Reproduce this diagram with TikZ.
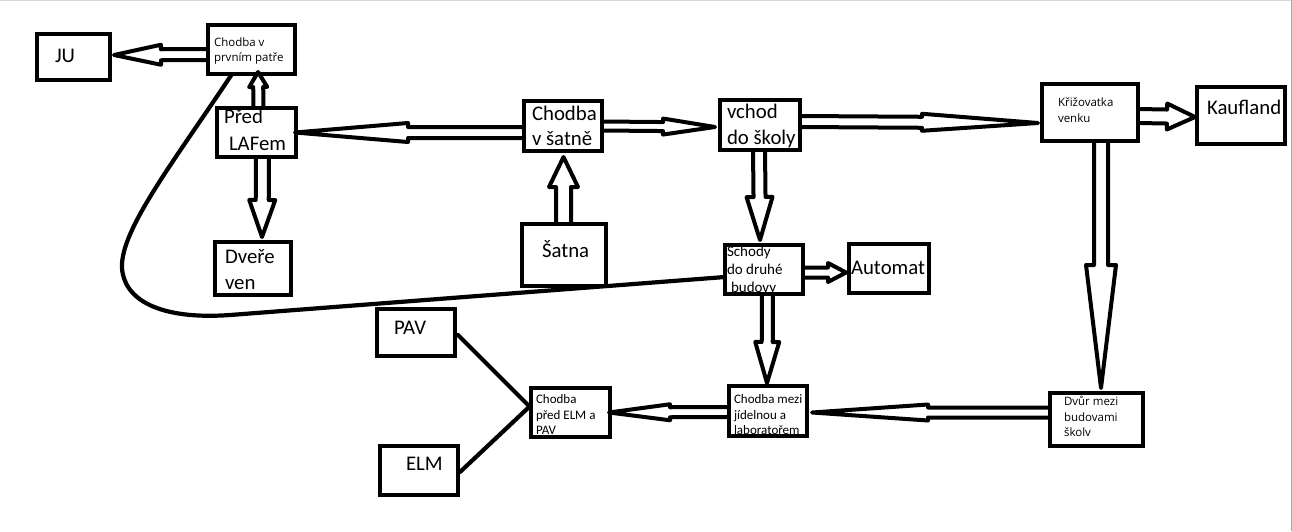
\documentclass[tikz,border=0pt]{standalone}
\usepackage{fontspec}
\setmainfont{Carlito}
\newfontfamily\segfont{Open Sans}
\usetikzlibrary{calc}
\newcommand\hollowarrow[5]{%
  \path (#1) coordinate (ha-s) (#2) coordinate (ha-t);
  \path ($(ha-t)!#5!(ha-s)$) coordinate (ha-b);
  \draw[blk] ($(ha-s)!#3!90:(ha-t)$) -- ($(ha-b)!#3!-90:(ha-s)$) -- ($(ha-b)!#4!-90:(ha-s)$) -- (ha-t) -- ($(ha-b)!#4!90:(ha-s)$) -- ($(ha-b)!#3!90:(ha-s)$) -- ($(ha-s)!#3!-90:(ha-t)$);
}
\begin{document}
\begin{tikzpicture}[x=1pt,y=-1pt,
  box/.style={draw=black, line width=4pt, inner sep=0pt, outer sep=0pt, rectangle},
  blk/.style={draw=black, line width=4pt, line join=round, line cap=round},
  ln/.style={draw=black, line width=4.2pt, line cap=round, line join=round},
  big/.style={anchor=base west, inner sep=0pt, outer sep=0pt, font=\fontsize{20.8}{24}\selectfont},
  med/.style={anchor=base west, inner sep=0pt, outer sep=0pt, font=\fontsize{15}{18}\selectfont},
  sml/.style={anchor=base west, inner sep=0pt, outer sep=0pt, font=\fontsize{13}{15}\selectfont},
  seg/.style={anchor=base west, inner sep=0pt, outer sep=0pt, font=\segfont\fontsize{11.5}{14}\selectfont}
]
\useasboundingbox (0,0) rectangle (1292,531);
\fill[white] (0,0) rectangle (1292,531);
\draw[line width=1.2pt, color={rgb,255:red,216;green,216;blue,216}] (0,0.6) -- (1292,0.6);
\draw[line width=1pt, color={rgb,255:red,163;green,171;blue,179}] (1291.5,0) -- (1291.5,531);

% texts
\node[big] (t-ju) at (55,62) {JU};
\node[seg] (t-cpp1) at (214,46.5) {Chodba v};
\node[seg] (t-cpp2) at (214,61) {prvním patře};
\node[big] (t-ple1) at (224,123) {Před};
\node[big] (t-ple2) at (229,150) {LAFem};
\node[big] (t-dve1) at (225,263) {Dveře};
\node[big] (t-dve2) at (225,289) {ven};
\node[big] (t-chs1) at (532,120) {Chodba};
\node[big] (t-chs2) at (532,145.5) {v šatně};
\node[big] (t-vch1) at (727,118) {vchod};
\node[big] (t-vch2) at (727,144) {do školy};
\node[big] (t-sat) at (542,257) {Šatna};
\node[med] (t-sch1) at (727,256) {Schody};
\node[med] (t-sch2) at (727,274) {do druhé};
\node[med] (t-sch3) at (731,292) {budovy};
\node[big] (t-aut) at (851,274) {Automat};
\node[seg] (t-kri1) at (1058,106.5) {Křižovatka};
\node[seg] (t-kri2) at (1058,122) {venku};
\node[big] (t-kau) at (1207,114) {Kaufland};
\node[seg] (t-dvu1) at (1064,405.5) {Dvůr mezi};
\node[seg] (t-dvu2) at (1064,421) {budovami};
\node[seg] (t-dvu3) at (1064,436) {školv};
\node[sml] (t-cmz1) at (734,403) {Chodba mezi};
\node[sml] (t-cmz2) at (734,419) {jídelnou a};
\node[sml] (t-cmz3) at (734,434.5) {laboratořem};
\node[sml] (t-cpr1) at (536,403) {Chodba};
\node[sml] (t-cpr2) at (536,419) {před ELM a};
\node[sml] (t-cpr3) at (536,434.5) {PAV};
\node[big] (t-pav) at (394,334) {PAV};
\node[big] (t-elm) at (406,470) {ELM};

% boxes
\node[box, minimum width=73pt, minimum height=46pt] (ju) at (73.5,57) {};
\node[box, minimum width=87pt, minimum height=49pt] (cpp) at (251.5,49.5) {};
\node[box, minimum width=79pt, minimum height=49pt] (ple) at (256.5,132.5) {};
\node[box, minimum width=76pt, minimum height=53pt] (dve) at (253,268.5) {};
\node[box, minimum width=78pt, minimum height=50pt] (chs) at (563,126) {};
\node[box, minimum width=84pt, minimum height=62pt] (sat) at (564,255) {};
\node[box, minimum width=80pt, minimum height=50pt] (vch) at (760,125) {};
\node[box, minimum width=78pt, minimum height=49pt] (sch) at (764,269.5) {};
\node[box, minimum width=80pt, minimum height=49pt] (aut) at (889,268.5) {};
\node[box, minimum width=96pt, minimum height=57pt] (kri) at (1090,112.5) {};
\node[box, minimum width=88pt, minimum height=57pt] (kau) at (1241,115.5) {};
\node[box, minimum width=93pt, minimum height=53pt] (dvu) at (1096.5,419.5) {};
\node[box, minimum width=78pt, minimum height=50pt] (cmz) at (768,411) {};
\node[box, minimum width=79pt, minimum height=49pt] (cpr) at (570.5,412.5) {};
\node[box, minimum width=78pt, minimum height=47pt] (pav) at (416,332.5) {};
\node[box, minimum width=78pt, minimum height=49pt] (elm) at (419,470.5) {};

% hollow arrows
\hollowarrow{[yshift=-5pt]cpp.west}{[xshift=4pt,yshift=2pt]ju.east}{5.5pt}{10pt}{47pt}
\hollowarrow{[xshift=2pt]ple.north}{[xshift=6.5pt,yshift=2pt]cpp.south}{5pt}{9pt}{15pt}
\hollowarrow{[xshift=6pt]ple.south}{[xshift=9pt,yshift=5pt]dve.north}{6.5pt}{13pt}{37pt}
\hollowarrow{[yshift=-6.5pt]chs.west}{[xshift=-1pt]ple.east}{5.5pt}{9.5pt}{113pt}
\hollowarrow{chs.east}{[xshift=-5pt,yshift=-2pt]vch.west}{4.5pt}{8pt}{52pt}
\hollowarrow{[yshift=3.5pt]vch.east}{[xshift=-4pt,yshift=-10.5pt]kri.west}{5.5pt}{8.5pt}{116pt}
\hollowarrow{[yshift=-3.5pt]kri.east}{[xshift=-2pt,yshift=-1.5pt]kau.west}{7pt}{13pt}{28pt}
\hollowarrow{[xshift=11pt]kri.south}{[xshift=4.5pt,yshift=5pt]dvu.north}{7pt}{15pt}{123pt}
\hollowarrow{[xshift=-1pt]vch.south}{[xshift=-4pt,yshift=5pt]sch.north}{6pt}{13pt}{43pt}
\hollowarrow{[xshift=-0.5pt]sat.north}{[xshift=0.5pt,yshift=-6pt]chs.south}{7.5pt}{14.5pt}{30pt}
\hollowarrow{[yshift=-3pt]sch.east}{[xshift=-3pt,yshift=-4pt]aut.west}{5pt}{9.5pt}{18pt}
\hollowarrow{[xshift=3.5pt]sch.south}{[xshift=-1pt,yshift=3pt]cmz.north}{5.5pt}{12pt}{41pt}
\hollowarrow{[yshift=7pt]dvu.west}{[xshift=5pt,yshift=-1.5pt]cmz.east}{5pt}{8pt}{116pt}
\hollowarrow{[yshift=-1pt]cmz.west}{[xshift=-1pt]cpr.east}{5pt}{8pt}{61pt}

% plain lines
\draw[ln] ([xshift=3pt,yshift=-2.5pt]pav.east) -- ([xshift=-3pt,yshift=7.5pt]cpr.west);
\draw[ln] ([xshift=2pt,yshift=-1.5pt]elm.east) -- ([xshift=-3pt,yshift=4.5pt]cpr.west);
\draw[ln] ([xshift=-19.5pt]cpp.south) .. controls (175,160) and (120,230) .. (122,268)
  .. controls (124,300) and (160,320) .. (230,315) -- ([yshift=-7.5pt]sch.west);
\end{tikzpicture}
\end{document}
